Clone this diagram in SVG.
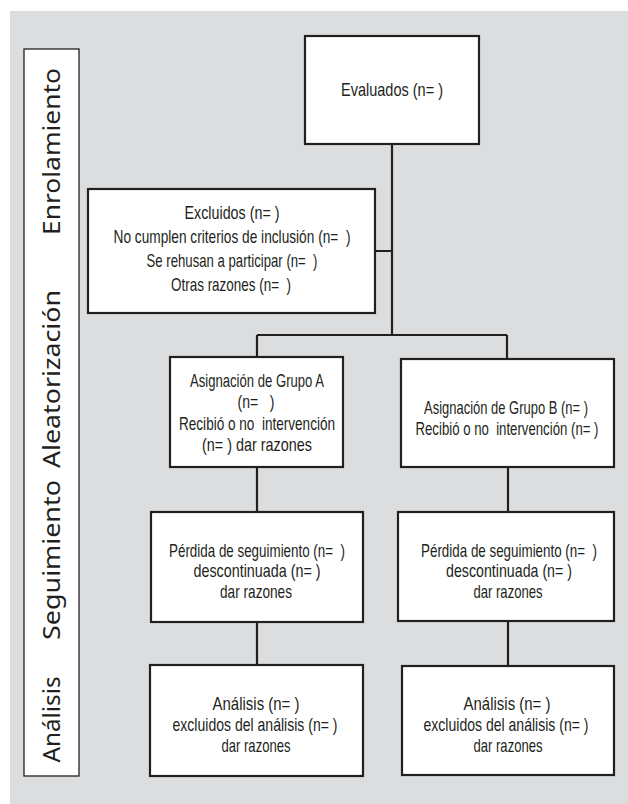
<svg xmlns="http://www.w3.org/2000/svg" width="628" height="804" viewBox="0 0 628 804">
<style>
.box{fill:#fff;stroke:#231f20;stroke-width:2.2}
.lbl{fill:#fff;stroke:#231f20;stroke-width:1.3}
.t{font-family:"Liberation Sans",Arial,sans-serif;font-size:17.5px;fill:#231f20;text-anchor:middle;white-space:pre}
.s{font-family:"Noto Sans","Open Sans",sans-serif;font-size:23.5px;fill:#231f20;text-anchor:middle}
.c{stroke:#231f20;stroke-width:2.2;fill:none}
</style>
<rect x="10" y="11" width="618" height="793" fill="#dcdddf"/>
<g id="stages">
<rect class="lbl" x="24" y="49" width="55" height="727"/>
<text class="s" transform="translate(60,151.5) rotate(-90)" textLength="167" lengthAdjust="spacingAndGlyphs">Enrolamiento</text>
<text class="s" transform="translate(60,379) rotate(-90)" textLength="178" lengthAdjust="spacingAndGlyphs">Aleatorización</text>
<text class="s" transform="translate(60,560) rotate(-90)" textLength="160" lengthAdjust="spacingAndGlyphs">Seguimiento</text>
<text class="s" transform="translate(60,719.5) rotate(-90)" textLength="86" lengthAdjust="spacingAndGlyphs">Análisis</text>
</g>
<g id="connectors">
<path class="c" d="M392,144V335M375,251H392M257,335H507M257,335V357M507,335V359M257,467V512M508,467V512M257,622V665M508,621V666"/>
</g>
<g id="evaluados">
<rect class="box" x="305" y="36" width="174" height="108"/>
<text class="t" transform="translate(392,96) scale(0.78,1)" textLength="130.8" lengthAdjust="spacingAndGlyphs">Evaluados (n= )</text>
</g>
<g id="excluidos">
<rect class="box" x="88" y="189" width="287" height="124"/>
<text class="t" transform="translate(232,219) scale(0.78,1)" textLength="121.8" lengthAdjust="spacingAndGlyphs">Excluidos (n= )</text>
<text class="t" transform="translate(232,243) scale(0.78,1)" textLength="303.8" lengthAdjust="spacingAndGlyphs">No cumplen criterios de inclusión (n=  )</text>
<text class="t" transform="translate(232,267) scale(0.78,1)" textLength="219.2" lengthAdjust="spacingAndGlyphs">Se rehusan a participar (n=  )</text>
<text class="t" transform="translate(231,291) scale(0.78,1)" textLength="153.8" lengthAdjust="spacingAndGlyphs">Otras razones (n=  )</text>
</g>
<g id="grupoA">
<rect class="box" x="170" y="357" width="173" height="110"/>
<text class="t" transform="translate(257,387) scale(0.78,1)" textLength="171.8" lengthAdjust="spacingAndGlyphs">Asignación de Grupo A</text>
<text class="t" transform="translate(256,408) scale(0.78,1)" textLength="47.4" lengthAdjust="spacingAndGlyphs">(n=   )</text>
<text class="t" transform="translate(257,430) scale(0.78,1)" textLength="200" lengthAdjust="spacingAndGlyphs">Recibió o no  intervención</text>
<text class="t" transform="translate(257,451) scale(0.78,1)" textLength="141" lengthAdjust="spacingAndGlyphs">(n= ) dar razones</text>
</g>
<g id="grupoB">
<rect class="box" x="401" y="359" width="213" height="108"/>
<text class="t" transform="translate(506,414) scale(0.78,1)" textLength="210.3" lengthAdjust="spacingAndGlyphs">Asignación de Grupo B (n= )</text>
<text class="t" transform="translate(507,435) scale(0.78,1)" textLength="234.6" lengthAdjust="spacingAndGlyphs">Recibió o no  intervención (n= )</text>
</g>
<g id="seguimientoA">
<rect class="box" x="151" y="512" width="212" height="110"/>
<text class="t" transform="translate(257,556.5) scale(0.78,1)" textLength="225.6" lengthAdjust="spacingAndGlyphs">Pérdida de seguimiento (n=  )</text>
<text class="t" transform="translate(257,577) scale(0.78,1)" textLength="162.8" lengthAdjust="spacingAndGlyphs">descontinuada (n= )</text>
<text class="t" transform="translate(256,597.5) scale(0.78,1)" textLength="92.3" lengthAdjust="spacingAndGlyphs">dar razones</text>
</g>
<g id="seguimientoB">
<rect class="box" x="398" y="512" width="216" height="109"/>
<text class="t" transform="translate(509,556.5) scale(0.78,1)" textLength="225.6" lengthAdjust="spacingAndGlyphs">Pérdida de seguimiento (n=  )</text>
<text class="t" transform="translate(509,577) scale(0.78,1)" textLength="161.5" lengthAdjust="spacingAndGlyphs">descontinuada (n= )</text>
<text class="t" transform="translate(508,597.5) scale(0.78,1)" textLength="88.5" lengthAdjust="spacingAndGlyphs">dar razones</text>
</g>
<g id="analisisA">
<rect class="box" x="150" y="665" width="213" height="111"/>
<text class="t" transform="translate(256,710) scale(0.78,1)" textLength="111.5" lengthAdjust="spacingAndGlyphs">Análisis (n= )</text>
<text class="t" transform="translate(255,731) scale(0.78,1)" textLength="211.5" lengthAdjust="spacingAndGlyphs">excluidos del análisis (n= )</text>
<text class="t" transform="translate(256,752) scale(0.78,1)" textLength="88.5" lengthAdjust="spacingAndGlyphs">dar razones</text>
</g>
<g id="analisisB">
<rect class="box" x="402" y="666" width="212" height="109"/>
<text class="t" transform="translate(507,710) scale(0.78,1)" textLength="111.5" lengthAdjust="spacingAndGlyphs">Análisis (n= )</text>
<text class="t" transform="translate(506,731) scale(0.78,1)" textLength="211.5" lengthAdjust="spacingAndGlyphs">excluidos del análisis (n= )</text>
<text class="t" transform="translate(508,752) scale(0.78,1)" textLength="88.5" lengthAdjust="spacingAndGlyphs">dar razones</text>
</g>
</svg>
